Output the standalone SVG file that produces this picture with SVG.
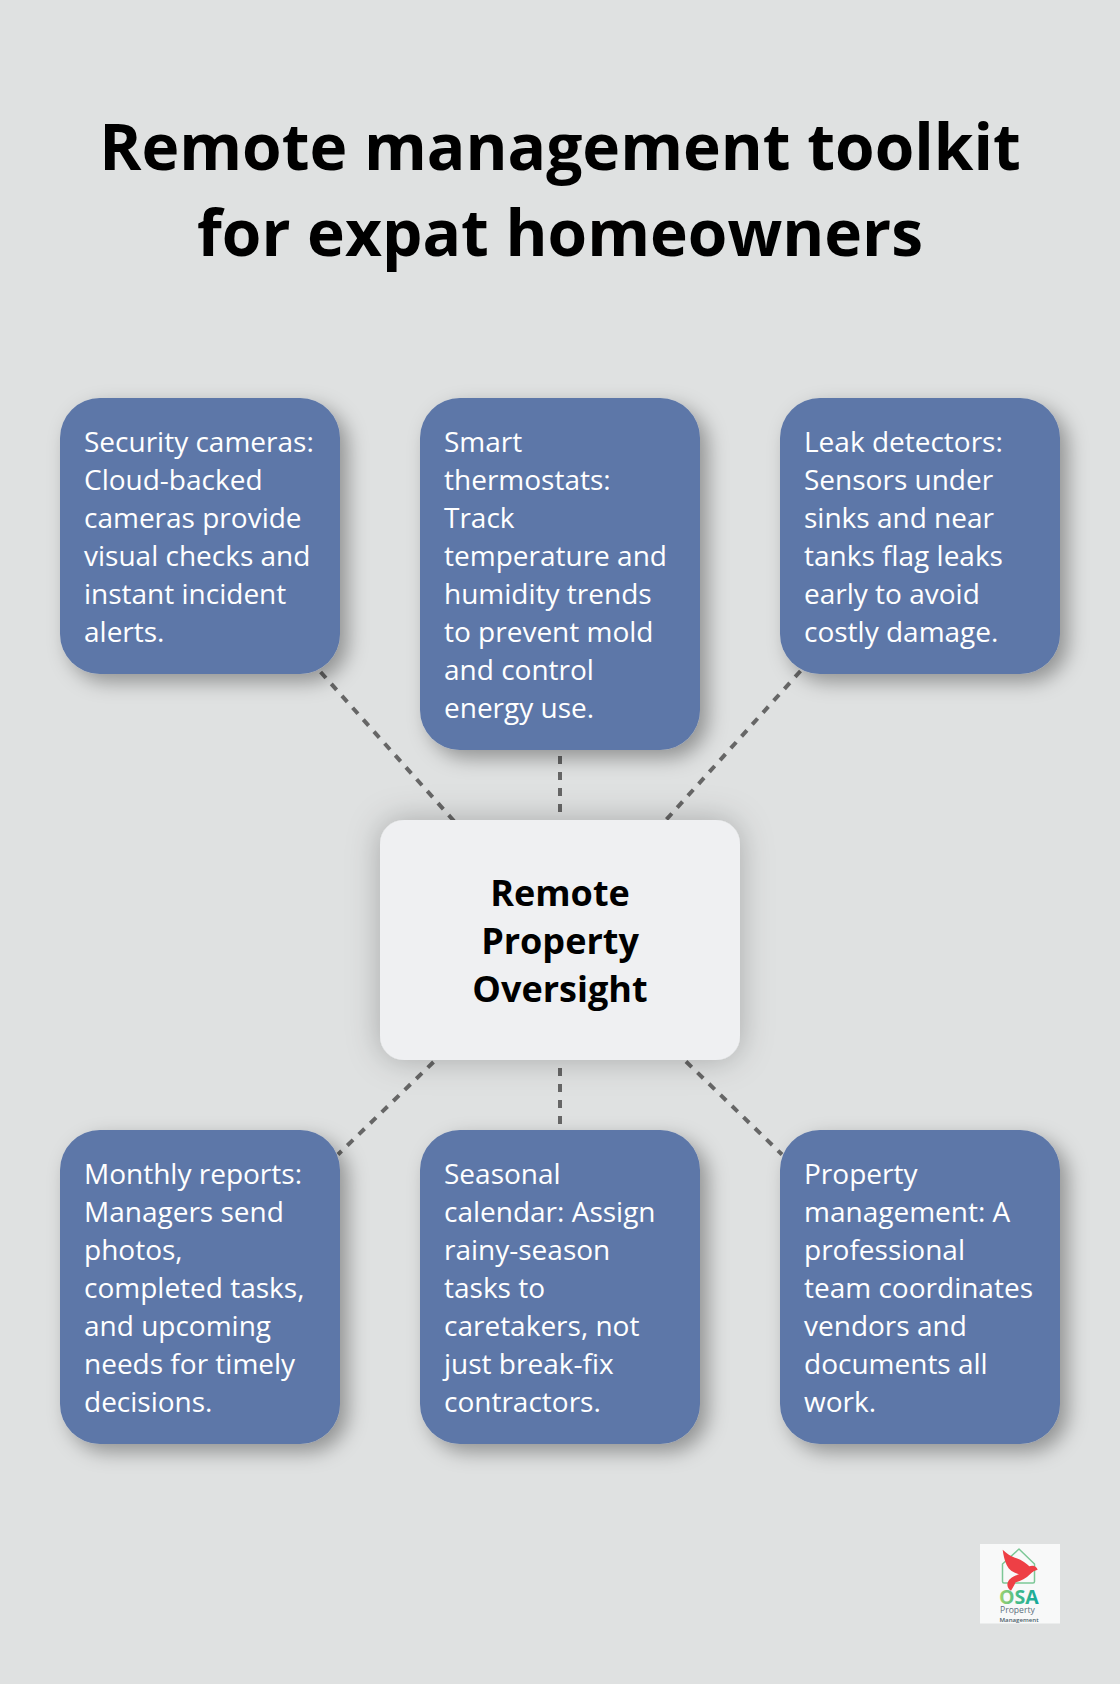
<svg xmlns="http://www.w3.org/2000/svg" width="1120" height="1684" viewBox="0 0 1120 1684">
<style>
text{font-family:"Open Sans","Noto Sans","DejaVu Sans",sans-serif}
.title{font-size:64px;font-weight:700;fill:#000;text-anchor:middle}
.body{font-size:28px;fill:#fff}
.ctr{font-size:36px;font-weight:700;fill:#000;text-anchor:middle}
.n{fill:#5d77a8;filter:url(#s)}
.c{fill:#eff0f2;filter:url(#s2)}
.l{stroke:#666;stroke-width:4;stroke-dasharray:8 8;fill:none}
</style>
<defs>
<filter id="s" x="-30%" y="-30%" width="170%" height="170%"><feDropShadow dx="8" dy="8" stdDeviation="10" flood-color="#000" flood-opacity=".35"/></filter>
<filter id="s2" x="-30%" y="-30%" width="160%" height="160%"><feDropShadow dx="0" dy="0" stdDeviation="16" flood-color="#000" flood-opacity=".25"/></filter>
<linearGradient id="g" x1="0" x2="1" y1="0" y2="0"><stop offset="0" stop-color="#a5d36c"/><stop offset=".5" stop-color="#3fb98c"/><stop offset="1" stop-color="#14a79a"/></linearGradient>
</defs>
<rect width="1120" height="1684" fill="#dfe1e1"/>
<g id="title"><text class="title" x="560" y="170">Remote management toolkit</text><text class="title" x="560" y="256">for expat homeowners</text></g>
<g id="connectors">
<path class="l" d="M320.600 672L454 821"/>
<path class="l" d="M560 756V812"/>
<path class="l" d="M800.500 671L666 820"/>
<path class="l" d="M433.500 1062L338 1154.500"/>
<path class="l" d="M560 1068V1124"/>
<path class="l" d="M686 1061.500L782 1154.500"/>
</g>
<g id="node-security"><rect class="n" x="60" y="398" width="280" height="276" rx="40"/><text class="body" x="84"><tspan x="84" y="452">Security cameras:</tspan><tspan x="84" y="490">Cloud-backed</tspan><tspan x="84" y="528">cameras provide</tspan><tspan x="84" y="566">visual checks and</tspan><tspan x="84" y="604">instant incident</tspan><tspan x="84" y="642">alerts.</tspan></text></g>
<g id="node-thermostats"><rect class="n" x="420" y="398" width="280" height="352" rx="40"/><text class="body"><tspan x="444" y="452">Smart</tspan><tspan x="444" y="490">thermostats:</tspan><tspan x="444" y="528">Track</tspan><tspan x="444" y="566">temperature and</tspan><tspan x="444" y="604">humidity trends</tspan><tspan x="444" y="642">to prevent mold</tspan><tspan x="444" y="680">and control</tspan><tspan x="444" y="718">energy use.</tspan></text></g>
<g id="node-leak"><rect class="n" x="780" y="398" width="280" height="276" rx="40"/><text class="body"><tspan x="804" y="452">Leak detectors:</tspan><tspan x="804" y="490">Sensors under</tspan><tspan x="804" y="528">sinks and near</tspan><tspan x="804" y="566">tanks flag leaks</tspan><tspan x="804" y="604">early to avoid</tspan><tspan x="804" y="642">costly damage.</tspan></text></g>
<g id="node-center"><rect class="c" x="380" y="820" width="360" height="240" rx="24"/><text class="ctr"><tspan x="560" y="906">Remote</tspan><tspan x="560" y="954">Property</tspan><tspan x="560" y="1002">Oversight</tspan></text></g>
<g id="node-reports"><rect class="n" x="60" y="1130" width="280" height="314" rx="40"/><text class="body"><tspan x="84" y="1184">Monthly reports:</tspan><tspan x="84" y="1222">Managers send</tspan><tspan x="84" y="1260">photos,</tspan><tspan x="84" y="1298">completed tasks,</tspan><tspan x="84" y="1336">and upcoming</tspan><tspan x="84" y="1374">needs for timely</tspan><tspan x="84" y="1412">decisions.</tspan></text></g>
<g id="node-calendar"><rect class="n" x="420" y="1130" width="280" height="314" rx="40"/><text class="body"><tspan x="444" y="1184">Seasonal</tspan><tspan x="444" y="1222">calendar: Assign</tspan><tspan x="444" y="1260">rainy-season</tspan><tspan x="444" y="1298">tasks to</tspan><tspan x="444" y="1336">caretakers, not</tspan><tspan x="444" y="1374">just break-fix</tspan><tspan x="444" y="1412">contractors.</tspan></text></g>
<g id="node-management"><rect class="n" x="780" y="1130" width="280" height="314" rx="40"/><text class="body"><tspan x="804" y="1184">Property</tspan><tspan x="804" y="1222">management: A</tspan><tspan x="804" y="1260">professional</tspan><tspan x="804" y="1298">team coordinates</tspan><tspan x="804" y="1336">vendors and</tspan><tspan x="804" y="1374">documents all</tspan><tspan x="804" y="1412">work.</tspan></text></g>
<g id="logo">
<rect x="980" y="1544" width="80" height="79.500" fill="#f8f9f9"/>
<path d="M1004 1583a1.500 1.500 0 0 1-1.500-1.500V1564L1019 1549L1034.500 1564V1581.500a1.500 1.500 0 0 1-1.500 1.500Z" fill="none" stroke="#7cc796" stroke-width="1.500" stroke-linejoin="round"/>
<g transform="translate(960 1520) scale(.3333)"><path d="M128 89C140 100 150 108 165 113C185 120 200 130 208 139C218 135 230 138 233 149C224 151 218 155 211 162C198 175 182 183 167 187C162 197 158 205 153 212C146 208 142 202 142 193C144 178 155 170 177 163C160 158 147 150 140 135C134 122 130 105 128 89Z" fill="#ee3f45"/></g>
<text x="999" y="1604" font-size="19.500" font-weight="700" fill="url(#g)">OSA</text>
<text x="1000" y="1612.500" font-size="8.600" fill="#5a6f7c">Property</text>
<text x="999.500" y="1621.500" font-size="6.100" font-weight="600" fill="#4c5f6b">Management</text>
</g>
</svg>
